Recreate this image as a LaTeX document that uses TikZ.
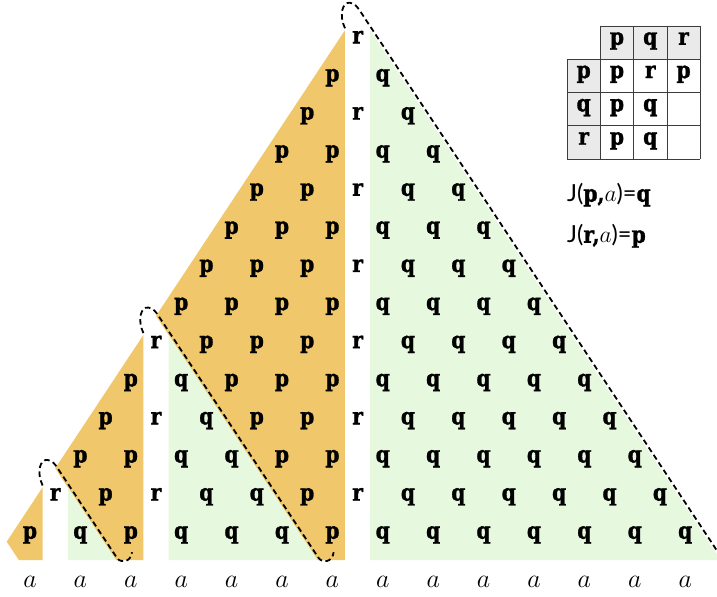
\documentclass[tikz,border=0pt]{standalone}
\usepackage{fix-cm}
\usepackage{fontspec}
\usepackage{tikz}
\usetikzlibrary{positioning}
\newfontfamily\slabfont{DejaVu Serif}[FakeStretch=0.86, BoldFeatures={FakeBold=1.2}]
\newfontfamily\labelfont{Lato}
\definecolor{RegionOrange}{RGB}{240,199,107}
\definecolor{RegionGreen}{RGB}{230,248,222}
\definecolor{HeadGray}{RGB}{234,234,234}
\definecolor{GridGray}{RGB}{60,60,60}

\tikzset{
  letter/.style={inner sep=0pt, text height=1ex, text depth=0pt,
    font=\fontsize{23.5}{28}\selectfont\slabfont\bfseries},
  alabel/.style={inner sep=0pt, text height=1ex, text depth=0pt,
    font=\fontsize{26}{30}\selectfont},
  hairpin/.style={dash pattern=on 5.5pt off 3.5pt, line width=1.8pt},
}

\begin{document}
\begin{tikzpicture}[x=25.2pt, y=38.1pt]
    \clip (-1.19,-1.627) rectangle (27.262,14.042);

    % Orange regions
    \fill[RegionOrange] (0.5,1.25) -- (-0.925,-0.175) -- (-0.444,-0.656) -- (0.5,-0.656) -- cycle;
    \fill[RegionOrange] (4.5,5.25) -- (1,1.75) -- (3.406,-0.656) -- (4.5,-0.656) -- cycle;
    \fill[RegionOrange] (12.5,13.25) -- (5,5.75) -- (11.406,-0.656) -- (12.5,-0.656) -- cycle;

    % Green regions
    \fill[RegionGreen] (1.5,1.25) -- (1.5,-0.656) -- (3.406,-0.656) -- cycle;
    \fill[RegionGreen] (5.5,5.25) -- (5.5,-0.656) -- (11.406,-0.656) -- cycle;
    \fill[RegionGreen] (13.5,13.25) -- (13.5,-0.656) -- (27.406,-0.656) -- cycle;

    % Dashed hairpins
    \foreach \m in {1,5,13}
      \draw[hairpin] ({\m-0.5},{\m+0.3}) .. controls ({\m-0.75},{\m+0.65}) and ({\m-0.6},{\m+1}) .. ({\m-0.3},{\m+0.97})
        .. controls ({\m-0.1},{\m+0.95}) and ({\m},{\m+0.85}) .. ({\m+0.1},{\m+0.75})
        -- ({2*\m+1.45},-0.6) .. controls ({2*\m+1.6},-0.75) and ({2*\m+2.0},-0.72) .. ({2*\m+2.05},-0.45);

    % Letters, row by row from the bottom
    \foreach \k/\row in {
      0/{p,q,p,q,q,q,p,q,q,q,q,q,q,q},
      1/{r,p,r,q,q,p,r,q,q,q,q,q,q},
      2/{p,p,q,q,p,p,q,q,q,q,q,q},
      3/{p,r,q,p,p,r,q,q,q,q,q},
      4/{p,q,p,p,p,q,q,q,q,q},
      5/{r,p,p,p,r,q,q,q,q},
      6/{p,p,p,p,q,q,q,q},
      7/{p,p,p,r,q,q,q},
      8/{p,p,p,q,q,q},
      9/{p,p,r,q,q},
      10/{p,p,q,q},
      11/{p,r,q},
      12/{p,q},
      13/{r}} {
      \foreach \t [count=\i from 0] in \row {
        \pgfmathtruncatemacro\c{\k+2*\i}
        \node[letter] (l\c-\k) at (\c,{\k-0.04}) {\t};
      }
    }

    % Input symbols
    \foreach \c in {0,2,...,26}
      \node[alabel] (a\c) at (\c,-1.31) {$a$};

    % Table
    \begin{scope}[shift={(21.31,13.36)}, x=33.3pt, y=-33.3pt]
      \fill[HeadGray] (1,0) rectangle (4,1) (0,1) rectangle (1,4);
      \draw[GridGray, line width=0.8pt] (1,0) -- (4,0) (0,1) -- (4,1) (0,2) -- (4,2) (0,3) -- (4,3) (0,4) -- (4,4)
        (0,1) -- (0,4) (1,0) -- (1,4) (2,0) -- (2,4) (3,0) -- (3,4) (4,0) -- (4,4);
      \foreach \i/\j/\t in {1/0/p, 2/0/q, 3/0/r, 0/1/p, 0/2/q, 0/3/r,
                            1/1/p, 2/1/r, 3/1/p, 1/2/p, 2/2/q, 1/3/p, 2/3/q}
        \node[letter] (t\i-\j) at ({\i+0.5},{\j+0.5}) {\t};
    \end{scope}

    % Rules
    \node[anchor=base west, inner sep=0pt, font=\fontsize{23.5}{28}\selectfont] (eq1) at (21.31,8.75)
      {{\labelfont J(}{\slabfont\bfseries p,}$a${\labelfont )=}{\slabfont\bfseries q}};
    \node[anchor=base west, inner sep=0pt, font=\fontsize{23.5}{28}\selectfont] (eq2) at (21.31,7.67)
      {{\labelfont J(}{\slabfont\bfseries r,}$a${\labelfont )=}{\slabfont\bfseries p}};
\end{tikzpicture}
\end{document}
